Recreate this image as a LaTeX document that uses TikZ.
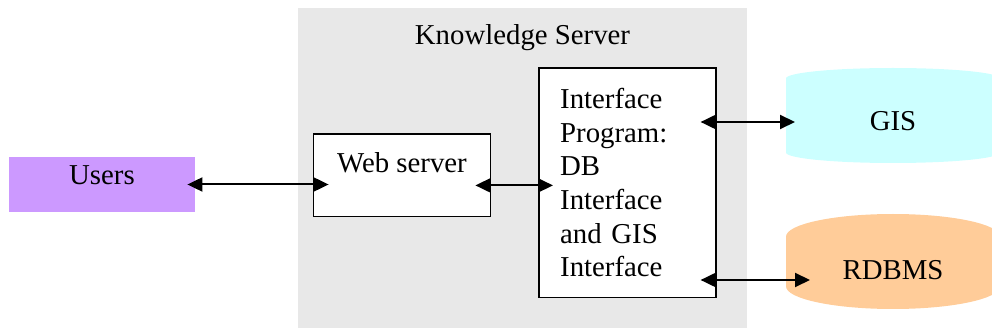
\documentclass[tikz,border=0pt]{standalone}
\usepackage{fontspec}
\setmainfont{Liberation Serif}
\usetikzlibrary{arrows.meta,shapes.geometric}
\definecolor{ksgray}{HTML}{E8E8E8}
\definecolor{userfill}{HTML}{CC99FF}
\definecolor{gisfill}{HTML}{CCFFFF}
\definecolor{dbfill}{HTML}{FFCC99}

\begin{document}
\begin{tikzpicture}[x=1pt,y=1pt,>={Triangle[length=7.5pt,width=7pt]},font=\fontsize{14.4}{16.8}\selectfont,
    box/.style={draw,line width=0.8pt,fill=white,inner sep=0pt},
    store/.style={cylinder,shape border rotate=90,aspect=0.45,minimum width=107pt,minimum height=47.5pt,inner sep=0pt,text depth=0pt,anchor=shape center},
    link/.style={<->,line width=1pt}]

    \useasboundingbox (0,0) rectangle (496,-165.5);
    \fill[ksgray] (149,-4.2) rectangle (373.3,-164);

    \node[anchor=base] (kstitle) at (261.25,-22.5) {Knowledge Server};
    \node[fill=userfill,inner sep=0pt,minimum width=93pt,text height=14pt,text depth=13.5pt,anchor=base] (users) at (51,-92.5) {Users};
    \node[box,minimum width=88.6pt,text height=19.2pt,text depth=22pt,anchor=base] (web) at (201,-86.3) {Web server};
    \node[box,anchor=north west,minimum width=88.3pt,minimum height=114.6pt,text width=67.3pt,inner xsep=10.5pt,align=left] (iface) at (269.2,-33.7)
        {Interface\\Program:\\DB\\Interface\\and GIS\\Interface};
    \node[store,fill=gisfill,text height=9.5pt] (gis) at (446.5,-57.75) {GIS};
    \node[store,fill=dbfill,text height=6.5pt] (rdbms) at (446.5,-130.75) {RDBMS};

    \path[link]
        ([xshift=-4pt]users.east) edge ([xshift=8pt]users.east -| web.west)
        ([xshift=-8pt,yshift=-5pt]web.east) edge ([xshift=7.3pt,yshift=-5pt]web.east -| iface.west)
        ([xshift=-8pt,yshift=-3.25pt]gis.shape center -| iface.east) edge ([xshift=-49pt,yshift=-3.25pt]gis.shape center)
        ([xshift=-8pt,yshift=-9.25pt]rdbms.shape center -| iface.east) edge ([xshift=-41.5pt,yshift=-9.25pt]rdbms.shape center)
        ;
\end{tikzpicture}
\end{document}
